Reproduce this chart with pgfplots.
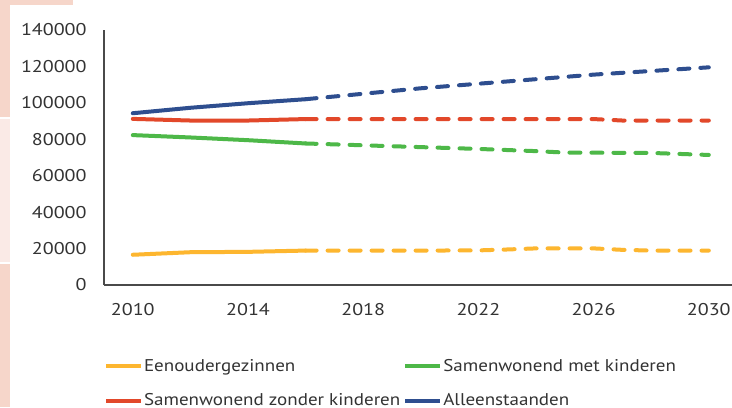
\documentclass[border=0pt]{standalone}
\usepackage{fontspec}
\setmainfont{PT Sans}[FakeStretch=1.12]
\newfontfamily\tickfont{PT Sans}[FakeStretch=1.18]
\usepackage{pgfplots}
\pgfplotsset{compat=1.18}
\definecolor{cYel}{HTML}{FDB62F}
\definecolor{cGrn}{HTML}{4DB848}
\definecolor{cRed}{HTML}{E2482A}
\definecolor{cBlu}{HTML}{2E4E8F}
\definecolor{salmon}{HTML}{F6D6CA}
\definecolor{lpink}{HTML}{FAEAE6}
\definecolor{axgray}{HTML}{4A4A4A}
\definecolor{txt}{HTML}{333333}
\begin{document}
\begin{tikzpicture}
\fill[white] (0,0) rectangle (366pt,203.5pt);
\fill[salmon] (0,201pt) rectangle (36.5pt,203.5pt);
\fill[salmon] (0,145pt) rectangle (5pt,203.5pt);
\fill[lpink] (0,72.5pt) rectangle (5pt,144pt);
\fill[salmon] (0,0) rectangle (5pt,71.5pt);
\begin{axis}[
  at={(52pt,61pt)}, anchor=south west,
  scale only axis, width=316.8pt, height=127.5pt,
  xmin=2009, xmax=2031, ymin=0, ymax=140000,
  axis x line*=bottom, axis y line*=left,
  axis line style={-, axgray, line width=1pt},
  xtick={2010,2014,2018,2022,2026,2030},
  xticklabels={2010,2014,2018,2022,2026,2030},
  ytick={0,20000,40000,60000,80000,100000,120000,140000},
  yticklabels={0,20000,40000,60000,80000,100000,120000,140000},
  scaled y ticks=false, scaled x ticks=false,
  major tick length=0pt,
  tick label style={font=\tickfont\fontsize{8.5}{10}\selectfont, text=txt},
  xticklabel style={inner sep=0pt, yshift=-8.8pt},
  yticklabel style={inner sep=0pt, xshift=-8.5pt},
  legend columns=2,
  legend style={draw=none, fill=none, at={(axis description cs:0,-0.286)}, anchor=north west,
    inner sep=0pt, outer sep=0pt, font=\fontsize{8.5}{10}\selectfont, text=txt,
    nodes={inner sep=0.5pt},
    row sep=8.6pt, /tikz/every even column/.append style={column sep=1pt}},
  legend cell align=left,
  legend image code/.code={\draw[#1, line width=2pt, solid, line cap=butt] (0pt,0pt) -- (17.5pt,0pt);},
  every axis plot/.append style={line width=2pt, line join=round, line cap=round},
]
% Eenoudergezinnen
\addplot[cYel] coordinates {(2010,16600) (2012,18000) (2014,18200) (2016,18900)};
\addlegendentry{Eenoudergezinnen}
% Samenwonend met kinderen
\addplot[cGrn] coordinates {(2010,82300) (2012,81000) (2014,79500) (2016,77700)};
\addlegendentry{Samenwonend met kinderen}
% Samenwonend zonder kinderen
\addplot[cRed] coordinates {(2010,91200) (2012,90300) (2014,90300) (2016,91100)};
\addlegendentry{Samenwonend zonder kinderen}
% Alleenstaanden
\addplot[cBlu] coordinates {(2010,94300) (2012,97300) (2014,99800) (2016,102000)};
\addlegendentry{Alleenstaanden}
% projections
\addplot[cYel, forget plot, dash pattern=on 5.5pt off 5.5pt] coordinates {(2016,18900) (2018,18900) (2020,18900) (2022,19000) (2023,19500) (2024,20100) (2026,20100) (2027,19300) (2028,18900) (2030,18900)};
\addplot[cGrn, forget plot, dash pattern=on 5.5pt off 5.5pt] coordinates {(2016,77700) (2018,76700) (2020,75700) (2022,74700) (2024,73500) (2025,72700) (2028,72500) (2030,71400)};
\addplot[cRed, forget plot, dash pattern=on 5.5pt off 5.5pt] coordinates {(2016,91100) (2018,91100) (2020,91100) (2022,91100) (2024,91100) (2026,91100) (2027,90300) (2030,90300)};
\addplot[cBlu, forget plot, dash pattern=on 5.5pt off 5.5pt] coordinates {(2016,102000) (2018,105000) (2020,108000) (2022,110500) (2024,113000) (2026,115500) (2028,117500) (2030,119500)};
\end{axis}
\pgfresetboundingbox
\useasboundingbox (0,0) rectangle (366pt,203.5pt);
\end{tikzpicture}
\end{document}
